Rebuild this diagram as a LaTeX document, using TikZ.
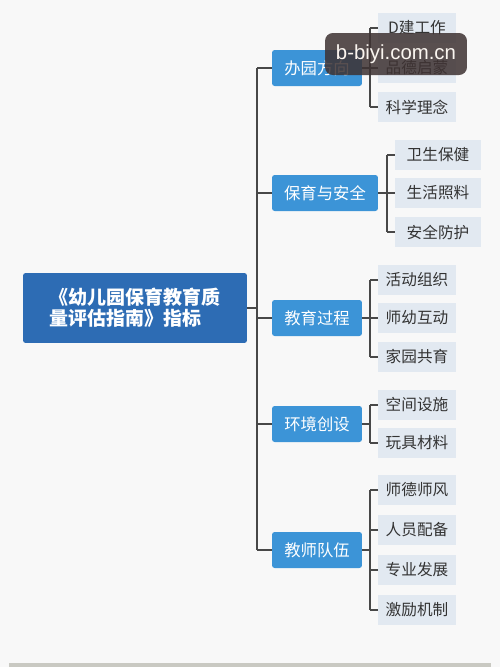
\documentclass[tikz,border=0pt]{standalone}
\usepackage{fontspec}
\setmainfont{Liberation Sans}
\newfontfamily\cjk{Noto Sans CJK SC}
\usetikzlibrary{positioning}
\definecolor{rootblue}{HTML}{2D6CB4}
\definecolor{topicblue}{HTML}{3C94D7}
\definecolor{itemgray}{HTML}{E2E9F1}
\definecolor{linegray}{HTML}{484848}
\definecolor{paper}{HTML}{F8F8F8}
\definecolor{barg}{HTML}{C9C9C2}
\definecolor{wmark}{HTML}{3E3232}
\tikzset{
  root/.style={fill=rootblue,text=white,rounded corners=1.5pt,minimum width=4.48cm,
    minimum height=1.4cm,inner sep=0pt,align=left,
    font=\cjk\bfseries\fontsize{10.8}{12}\selectfont},
  topic/.style={fill=topicblue,text=white,rounded corners=1.5pt,minimum width=1.8cm,
    minimum height=0.72cm,inner sep=0pt,font=\cjk\fontsize{9.3}{10}\selectfont},
  item/.style={fill=itemgray,text=black!80,minimum width=1.56cm,minimum height=0.6cm,
    inner sep=0pt,font=\cjk\fontsize{8.9}{10}\selectfont},
  conn/.style={draw=linegray,line width=0.6pt},
}
\begin{document}
\begin{tikzpicture}[x=0.02cm,y=-0.02cm]
\fill[paper] (0,0) rectangle (500,667);
\useasboundingbox (0,0) rectangle (500,667);
\fill[barg] (9,663) rectangle (491,667);

% root and trunk
\node[root] (root) at (135,308) {《幼儿园保育教育质\\量评估指南》指标};
\coordinate (trunk) at (257,308);

% first level
\node[topic] (t1) at (317,68) {办园方向};
\node[topic,minimum width=2.12cm] (t2) at (325,193) {保育与安全};
\node[topic] (t3) at (317,318) {教育过程};
\node[topic] (t4) at (317,424) {环境创设};
\node[topic] (t5) at (317,550) {教师队伍};

% bracket points
\coordinate (k1) at (370,68);
\coordinate (k2) at (387,193);
\coordinate (k3) at (370,318);
\coordinate (k4) at (370,424);
\coordinate (k5) at (370,550);

% leaves
\node[item] (a1) at (417,28) {D建工作};
\node[item] (a2) at (417,68) {品德启蒙};
\node[item] (a3) at (417,107) {科学理念};

\node[item,minimum width=1.72cm] (b1) at (438,155) {卫生保健};
\node[item,minimum width=1.72cm] (b2) at (438,193) {生活照料};
\node[item,minimum width=1.72cm] (b3) at (438,232) {安全防护};

\node[item] (c1) at (417,280) {活动组织};
\node[item] (c2) at (417,318) {师幼互动};
\node[item] (c3) at (417,357) {家园共育};

\node[item] (d1) at (417,405) {空间设施};
\node[item] (d2) at (417,443) {玩具材料};

\node[item] (e1) at (417,490) {师德师风};
\node[item] (e2) at (417,530) {人员配备};
\node[item] (e3) at (417,570) {专业发展};
\node[item] (e4) at (417,610) {激励机制};

% connectors
\draw[conn] (root.east) -- (trunk);
\draw[conn] (trunk |- t1) -- (trunk |- t5);
\draw[conn] (trunk |- t1) -- (t1.west);
\draw[conn] (trunk |- t2) -- (t2.west);
\draw[conn] (trunk |- t3) -- (t3.west);
\draw[conn] (trunk |- t4) -- (t4.west);
\draw[conn] (trunk |- t5) -- (t5.west);

\draw[conn] (t1.east) -- (k1);
\draw[conn] (k1 |- a1) -- (k1 |- a3);
\draw[conn] (k1 |- a1) -- (a1.west);
\draw[conn] (k1 |- a2) -- (a2.west);
\draw[conn] (k1 |- a3) -- (a3.west);

\draw[conn] (t2.east) -- (k2);
\draw[conn] (k2 |- b1) -- (k2 |- b3);
\draw[conn] (k2 |- b1) -- (b1.west);
\draw[conn] (k2 |- b2) -- (b2.west);
\draw[conn] (k2 |- b3) -- (b3.west);

\draw[conn] (t3.east) -- (k3);
\draw[conn] (k3 |- c1) -- (k3 |- c3);
\draw[conn] (k3 |- c1) -- (c1.west);
\draw[conn] (k3 |- c2) -- (c2.west);
\draw[conn] (k3 |- c3) -- (c3.west);

\draw[conn] (t4.east) -- (k4);
\draw[conn] (k4 |- d1) -- (k4 |- d2);
\draw[conn] (k4 |- d1) -- (d1.west);
\draw[conn] (k4 |- d2) -- (d2.west);

\draw[conn] (t5.east) -- (k5);
\draw[conn] (k5 |- e1) -- (k5 |- e4);
\draw[conn] (k5 |- e1) -- (e1.west);
\draw[conn] (k5 |- e2) -- (e2.west);
\draw[conn] (k5 |- e3) -- (e3.west);
\draw[conn] (k5 |- e4) -- (e4.west);

% watermark
\node[fill=wmark,fill opacity=0.85,text opacity=1,text=white!92!brown,rounded corners=4.5pt,
  minimum width=2.84cm,minimum height=0.84cm,inner sep=0pt,
  font=\fontsize{11.6}{12}\selectfont] (wm) at (396,54) {b-biyi.com.cn};
\end{tikzpicture}
\end{document}
